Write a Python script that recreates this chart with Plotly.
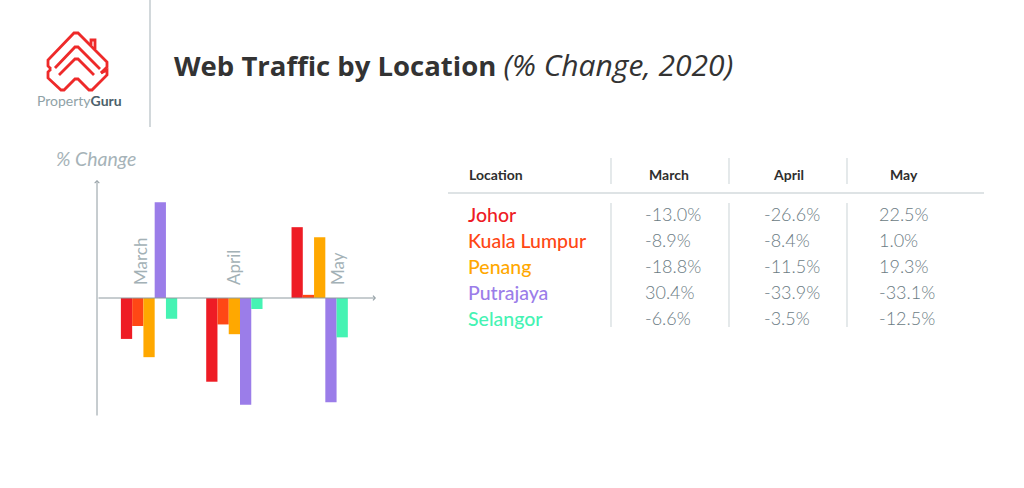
import plotly.graph_objects as go

# ---------------- data ----------------
months = ["March", "April", "May"]
locations = ["Johor", "Kuala Lumpur", "Penang", "Putrajaya", "Selangor"]
johor = [-13.0, -26.6, 22.5]
kuala_lumpur = [-8.9, -8.4, 1.0]
penang = [-18.8, -11.5, 19.3]
putrajaya = [30.4, -33.9, -33.1]
selangor = [-6.6, -3.5, -12.5]
series_values = [johor, kuala_lumpur, penang, putrajaya, selangor]
colors = ["#EE1C25", "#FF4715", "#FFA800", "#9B7DE9", "#45F3B3"]

W, H = 1024, 488


def px(x):
    return x / W


def py(y):
    return 1 - y / H


fig = go.Figure()
for name, vals, col in zip(locations, series_values, colors):
    fig.add_trace(go.Bar(x=months, y=vals, name=name, marker=dict(color=col, line=dict(width=0)),
                         showlegend=False, hoverinfo="x+y+name"))

# plot area in pixels
X0, X1 = 97, 376
Y0, Y1 = 180, 417
ZERO = 298
scale = (Y1 - Y0) / 75.3
y_top = (ZERO - Y0) / scale
y_bot = -(Y1 - ZERO) / scale

fig.update_layout(
    width=W, height=H,
    margin=dict(l=0, r=0, t=0, b=0),
    paper_bgcolor="white", plot_bgcolor="white",
    barmode="group", bargap=0.34, bargroupgap=0,
    xaxis=dict(domain=[px(X0), px(X1)], range=[-0.61, 2.66], visible=False, fixedrange=True),
    yaxis=dict(domain=[py(Y1), py(Y0)], range=[y_bot, y_top], visible=False, fixedrange=True),
)

ann = []
shapes = []

# axes with arrows
ann.append(dict(xref="paper", yref="paper", x=px(X0), y=py(Y0), ax=0, ay=Y1 - Y0,
                axref="pixel", ayref="pixel", showarrow=True, arrowhead=4, arrowsize=0.9,
                arrowwidth=1, arrowcolor="#8E9AA0", text="", standoff=0))
ann.append(dict(xref="paper", yref="y", x=px(X1), y=0, ax=-(X1 - X0), ay=0,
                showarrow=True, arrowhead=4, arrowsize=0.9,
                arrowwidth=1, arrowcolor="#8E9AA0", text="", standoff=0))

# month labels (rotated)
label_offsets = [-0.1, -0.01, 0.21]
for i, (m, off) in enumerate(zip(months, label_offsets)):
    ann.append(dict(xref="x", yref="y", x=i + off, y=(ZERO - 287) / scale, text=m,
                    textangle=-90, showarrow=False, xanchor="center", yanchor="bottom",
                    font=dict(family="Lato", size=17, color="#A3B1B6")))

# "% Change" label
ann.append(dict(xref="paper", yref="paper", x=px(54), y=py(158), text="<i>% Change</i>",
                showarrow=False, xanchor="left", yanchor="middle",
                font=dict(family="Lato", size=19.5, color="#A6B3B8")))

# title
ann.append(dict(xref="paper", yref="paper", x=px(172), y=py(64),
                text="<b>Web Traffic by Location</b> "
                     "<i><span style='font-size:30px'>(% Change, 2020)</span></i>",
                showarrow=False, xanchor="left", yanchor="middle",
                font=dict(family="Open Sans", size=27.5, color="#333333")))

# vertical separator in header
shapes.append(dict(type="line", xref="paper", yref="paper", x0=px(150), x1=px(150),
                   y0=py(0), y1=py(127), line=dict(color="#C3CBCF", width=1.5)))

# logo text
ann.append(dict(xref="paper", yref="paper", x=px(79), y=py(100),
                text="<span style='color:#8FA2A7'>Property</span><b><span style='color:#4C616B'>Guru</span></b>",
                showarrow=False, xanchor="center", yanchor="middle",
                font=dict(family="Lato", size=14)))


def path_from(points, close=False):
    s = "M " + " L ".join(f"{px(x):.5f},{py(y):.5f}" for x, y in points)
    return s + (" Z" if close else "")


red = "#EE2A2A"
lw = 2.8
logo_paths = [
    # roof
    [(51, 69), (48, 66), (48, 60), (74, 33), (78, 33), (107, 62), (107, 67), (101, 73)],
    # chevron 2
    [(55, 68), (75, 47), (78, 47), (100, 69)],
    # chevron 3
    [(59, 75), (75, 59), (78, 59), (94, 75)],
    # bottom W
    [(51, 69), (48, 72), (48, 78), (61, 90), (64, 90), (75, 79), (78, 79), (89, 90), (92, 90),
     (107, 75), (107, 70), (101, 73)],
    # chimney
    [(91, 45), (91, 40), (95, 40), (95, 49)],
]
for pts in logo_paths:
    shapes.append(dict(type="path", xref="paper", yref="paper", path=path_from(pts),
                       line=dict(color=red, width=lw)))

# ---------------- table ----------------
header_y = 174
row_ys = [214, 240, 266, 292, 318]
col_header_x = [669, 788, 904]
col_value_x = [643, 762, 877]
dividers_x = [611, 729, 847]

ann.append(dict(xref="paper", yref="paper", x=px(467), y=py(header_y), text="<b>Location</b>",
                showarrow=False, xanchor="left", yanchor="middle",
                font=dict(family="Lato", size=14, color="#2E2E2E")))
for m, xh in zip(months, col_header_x):
    ann.append(dict(xref="paper", yref="paper", x=px(xh), y=py(header_y), text=f"<b>{m}</b>",
                    showarrow=False, xanchor="center", yanchor="middle",
                    font=dict(family="Lato", size=14, color="#2E2E2E")))

shapes.append(dict(type="line", xref="paper", yref="paper", x0=px(448), x1=px(984),
                   y0=py(193), y1=py(193), line=dict(color="#D3DADD", width=1.5)))
for xd in dividers_x:
    shapes.append(dict(type="line", xref="paper", yref="paper", x0=px(xd), x1=px(xd),
                       y0=py(158), y1=py(184), line=dict(color="#D3DADD", width=1.2)))
    shapes.append(dict(type="line", xref="paper", yref="paper", x0=px(xd), x1=px(xd),
                       y0=py(203), y1=py(327), line=dict(color="#D3DADD", width=1.2)))

for loc, col, yr, vals in zip(locations, colors, row_ys, series_values):
    ann.append(dict(xref="paper", yref="paper", x=px(466), y=py(yr), text=loc,
                    showarrow=False, xanchor="left", yanchor="middle",
                    font=dict(family="Lato", size=19.5, color=col, weight=500)))
    for v, xv in zip(vals, col_value_x):
        ann.append(dict(xref="paper", yref="paper", x=px(xv), y=py(yr), text=f"{v:.1f}%",
                        showarrow=False, xanchor="left", yanchor="middle",
                        font=dict(family="Lato", size=18, color="#6B7B83", weight=300)))

fig.update_layout(annotations=ann, shapes=shapes)
fig.write_html("out.html")
